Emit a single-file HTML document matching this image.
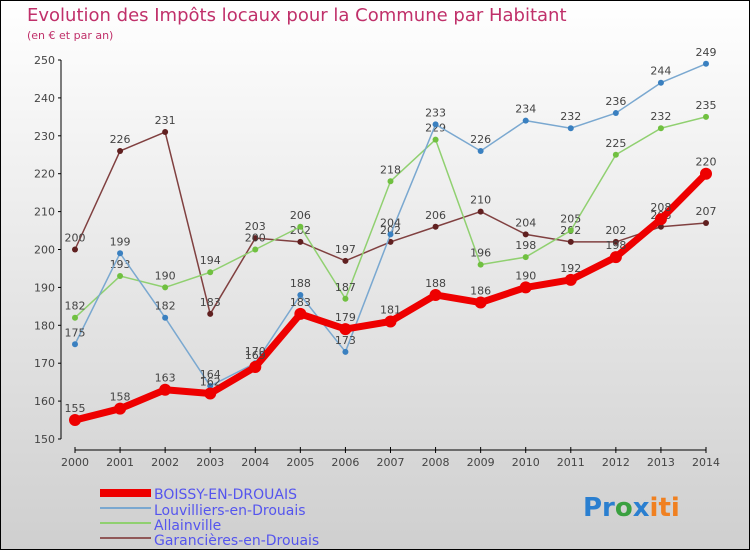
<!DOCTYPE html>
<html><head><meta charset="utf-8"><style>
body{margin:0}
#c{width:750px;height:550px;position:relative;font-family:"DejaVu Sans","Liberation Sans",sans-serif}
</style></head><body>
<div id="c">
<svg id="s" width="750" height="550" xmlns="http://www.w3.org/2000/svg">
<defs><linearGradient id="bg" x1="0" y1="0" x2="0" y2="1"><stop offset="0" stop-color="#ffffff"/><stop offset="1" stop-color="#cfcfcf"/></linearGradient></defs>
<rect x="0.5" y="0.5" width="749" height="549" fill="url(#bg)" stroke="#000"/>
<text x="27" y="21" font-size="18" fill="#c0306a">Evolution des Impôts locaux pour la Commune par Habitant</text>
<text x="27" y="39" font-size="11" fill="#c0306a">(en € et par an)</text>
<g id="axes"></g><g id="series"></g>
<g font-size="14" fill="#5555ee">
<line x1="100" y1="493" x2="151" y2="493" stroke="#ee0000" stroke-width="8"/><text x="154" y="499">BOISSY-EN-DROUAIS</text>
<line x1="100" y1="508" x2="151" y2="508" stroke="#7aa8d0" stroke-width="2"/><text x="154" y="515">Louvilliers-en-Drouais</text>
<line x1="100" y1="523" x2="151" y2="523" stroke="#90d070" stroke-width="2"/><text x="154" y="530">Allainville</text>
<line x1="100" y1="538" x2="151" y2="538" stroke="#905858" stroke-width="2"/><text x="154" y="545">Garancières-en-Drouais</text>
</g>
<g font-size="26" font-weight="bold">
<text x="583" y="516"><tspan fill="#2a7fd0">Pr</tspan><tspan fill="#3aa040">o</tspan><tspan fill="#2a7fd0">x</tspan><tspan fill="#f08020">iti</tspan></text>
</g>
</svg></div>
<script>
const years=[2000,2001,2002,2003,2004,2005,2006,2007,2008,2009,2010,2011,2012,2013,2014];
const yTicks=[150,160,170,180,190,200,210,220,230,240,250];
const boissy=[155,158,163,162,169,183,179,181,188,186,190,192,198,208,220];
const louv=[175,199,182,164,170,188,173,204,233,226,234,232,236,244,249];
const allain=[182,193,190,194,200,206,187,218,229,196,198,205,225,232,235];
const garan=[200,226,231,183,203,202,197,202,206,210,204,202,202,206,207];
const NS="http://www.w3.org/2000/svg";
const X=i=>75+i*(706-75)/(years.length-1);
const Y=v=>439-(v-150)*(439-60)/100;
function mk(t,a,p){const e=document.createElementNS(NS,t);for(const k in a)e.setAttribute(k,a[k]);if(p)p.appendChild(e);return e;}
const ax=document.getElementById('axes');
mk('line',{x1:61,y1:Y(250),x2:61,y2:Y(150),stroke:'#000'},ax);
mk('line',{x1:75,y1:450,x2:706,y2:450,stroke:'#000'},ax);
yTicks.forEach(v=>{mk('line',{x1:58,y1:Y(v),x2:61,y2:Y(v),stroke:'#000'},ax);
 const t=mk('text',{x:55,y:Y(v)+4,'font-size':11,fill:'#444','text-anchor':'end'},ax);t.textContent=v;
 });
years.forEach((y,i)=>{mk('line',{x1:X(i),y1:447,x2:X(i),y2:453,stroke:'#000'},ax);
 const t=mk('text',{x:X(i),y:466,'font-size':11,fill:'#444','text-anchor':'middle'},ax);t.textContent=y;
 });
const sg=document.getElementById('series');
function draw(data,name,color,w,r,dot){
 const g=mk('g',{},sg);
 
 
 mk('polyline',{points:data.map((v,i)=>X(i)+','+Y(v)).join(' '),fill:'none',stroke:color,'stroke-width':w,'stroke-linejoin':'round'},g);
 data.forEach((v,i)=>{const c=mk('circle',{cx:X(i),cy:Y(v),r:r,fill:dot},g);
  
  const t=mk('text',{x:X(i),y:Y(v)-8,'font-size':11,fill:'#444','text-anchor':'middle'},g);t.textContent=v;});
}
draw(garan,'garancieres-line','#804040',1.5,3,'#602020');
draw(allain,'allainville-line','#90d070',1.5,3,'#70c040');
draw(louv,'louvilliers-line','#7aa8d0',1.5,3,'#3a80c0');
draw(boissy,'boissy-line','#ee0000',7,6,'#ee0000');
</script>
</body></html>
